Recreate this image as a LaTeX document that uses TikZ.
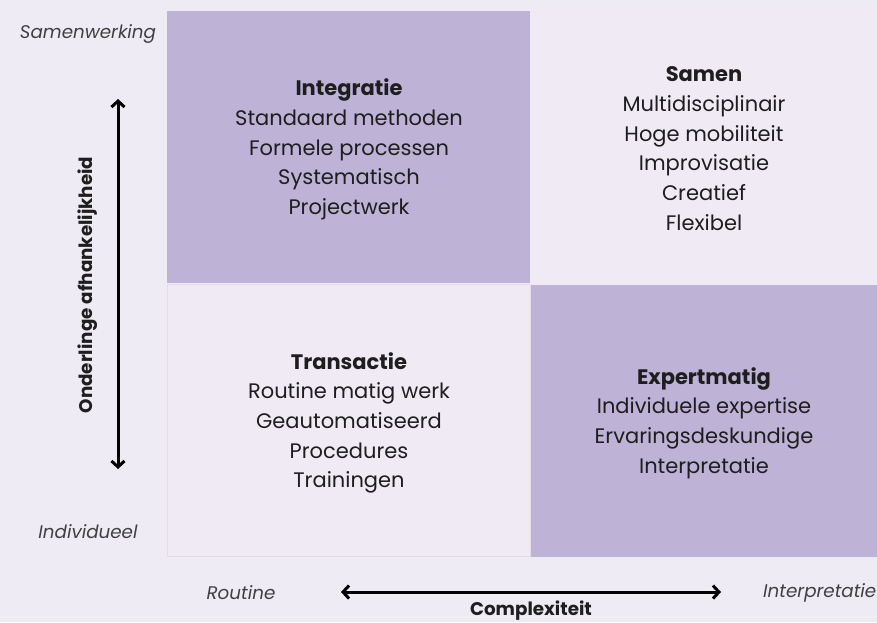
\documentclass[tikz,border=0pt]{standalone}
\usepackage{fontspec}
\setmainfont{Poppins}
\usetikzlibrary{arrows.meta}
\definecolor{bgc}{HTML}{EEEBF5}
\definecolor{darkc}{HTML}{BEB3D7}
\definecolor{lightc}{HTML}{F0EAF5}
\definecolor{edgec}{HTML}{E4DCEE}
\definecolor{txt}{HTML}{1E1E1E}
\begin{document}
\begin{tikzpicture}[x=1pt,y=-1pt,
  body/.style={align=center,font=\fontsize{21}{29.7}\selectfont,text=txt,inner sep=0},
  axislab/.style={font=\fontsize{18.3}{20}\selectfont\itshape,text=txt!85,inner sep=0},
  axistitle/.style={font=\fontsize{18.3}{20}\selectfont\bfseries,text=txt,inner sep=0},
  axarrow/.style={line width=3pt,{Straight Barb[length=6pt,width=13pt]}-{Straight Barb[length=6pt,width=13pt]},draw=black}]
\fill[bgc] (0,0) rectangle (877,622);
\useasboundingbox (0,0) rectangle (877,622);
% cells
\fill[darkc] (167,11) rectangle (530,283);
\fill[lightc] (530,11) rectangle (877,283);
\draw[edgec,line width=0.6pt] (167.5,284.5) rectangle (530,556);
\fill[lightc] (168,285) rectangle (530,555.5);
\fill[darkc] (531,285) rectangle (877,557);
% texts
\node[body] (integ) at (349,149.5) {\textbf{Integratie}\\Standaard methoden\\Formele processen\\Systematisch\\Projectwerk};
\node[body] (samen) at (704,148.5) {\textbf{Samen}\\Multidisciplinair\\Hoge mobiliteit\\Improvisatie\\Creatief\\Flexibel};
\node[body] (trans) at (349,423) {\textbf{Transactie}\\Routine matig werk\\Geautomatiseerd\\Procedures\\Trainingen};
\node[body] (expert) at (704,423) {\textbf{Expertmatig}\\Individuele expertise\\Ervaringsdeskundige\\Interpretatie};
% axes
\node[axislab] (samw) at (88,34) {Samenwerking};
\node[axislab] (indiv) at (88,532) {Individueel};
\node[axislab] (rout) at (241,593) {Routine};
\node[axislab,anchor=west] (interp) at (763,593) {Interpretatie};
\coordinate (vtop) at (118,99);
\coordinate (vbot) at (118,469);
\draw[axarrow] (vtop) -- (vbot);
\node[axistitle,rotate=90] (vlab) at (88,285) {Onderlinge afhankelijkheid};
\coordinate (hl) at (341,592);
\coordinate (hr) at (721,592);
\draw[axarrow] (hl) -- (hr);
\node[axistitle] (hlab) at (531,610.5) {Complexiteit};
\end{tikzpicture}
\end{document}
